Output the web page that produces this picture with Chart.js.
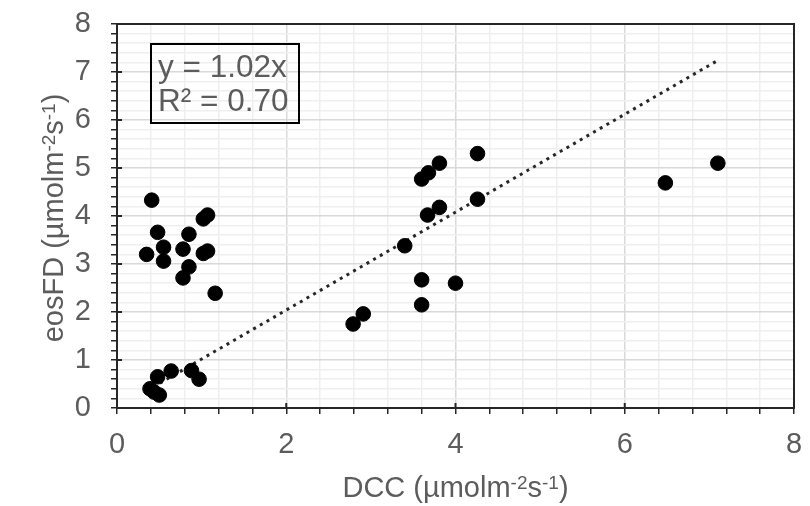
<!DOCTYPE html>
<html>
<head>
<meta charset="utf-8">
<script src="https://cdn.jsdelivr.net/npm/chart.js@4/dist/chart.umd.min.js"></script>
<style>
  html, body { margin: 0; padding: 0; background: #fff; }
</style>
</head>
<body>
<canvas id="my-chart" width="810" height="506"></canvas>
<script>
const dccValues = [0.41, 0.48, 0.55, 0.35, 0.55, 0.78, 0.85, 0.85, 0.78, 1.02, 1.07, 1.02, 1.07, 1.16,
  0.48, 0.64, 0.88, 0.97, 0.39, 0.44, 0.50,
  2.79, 2.91, 3.40, 3.60, 3.60, 3.60, 3.68, 3.67, 3.81, 3.81, 4.00, 4.26, 4.26, 6.48, 7.10];
const eosfdValues = [4.33, 3.66, 3.35, 3.20, 3.06, 3.31, 3.62, 2.94, 2.71, 3.94, 4.02, 3.22, 3.27, 2.39,
  0.65, 0.77, 0.78, 0.60, 0.40, 0.33, 0.27,
  1.75, 1.96, 3.38, 2.15, 2.67, 4.77, 4.90, 4.02, 5.10, 4.18, 2.60, 5.30, 4.35, 4.69, 5.10];
const slope = 1.02;
const rSquared = 0.70;
const xTicks = [0, 2, 4, 6, 8];
const yTicks = [0, 1, 2, 3, 4, 5, 6, 7, 8];

// axis titles as runs of text, sup = superscript
const xTitle = [{ t: 'DCC (\u00B5molm' }, { t: '-2', sup: true }, { t: 's' }, { t: '-1', sup: true }, { t: ')' }];
const yTitle = [{ t: 'eosFD (\u00B5molm' }, { t: '-2', sup: true }, { t: 's' }, { t: '-1', sup: true }, { t: ')' }];

const points = dccValues.map((x, i) => ({ x: x, y: eosfdValues[i] }));
const xMin = Math.min(...dccValues);
const xMax = Math.max(...dccValues);
const trend = [{ x: xMin, y: slope * xMin }, { x: xMax, y: slope * xMax }];

const textGrey = '#5c5c5c';
const fontFamily = '"Liberation Sans", Arial, sans-serif';
const titleSize = 29;
const supSize = 19;

const isMajor = (v, step) => Math.abs(v / step - Math.round(v / step)) < 1e-6;

function drawRich(ctx, runs, cx, baseline, angle) {
  ctx.save();
  ctx.translate(cx, baseline);
  ctx.rotate(angle);
  ctx.textBaseline = 'alphabetic';
  ctx.textAlign = 'left';
  ctx.fillStyle = textGrey;
  const widths = runs.map(r => {
    ctx.font = (r.sup ? supSize : titleSize) + 'px ' + fontFamily;
    return ctx.measureText(r.t).width;
  });
  let x = -widths.reduce((a, b) => a + b, 0) / 2;
  runs.forEach((r, i) => {
    ctx.font = (r.sup ? supSize : titleSize) + 'px ' + fontFamily;
    ctx.fillText(r.t, x, r.sup ? -8 : 0);
    x += widths[i];
  });
  ctx.restore();
}

// frame round the plot area, axis titles and the regression label
const framePlugin = {
  id: 'frame',
  afterDraw(chart) {
    const { ctx, chartArea: a } = chart;
    ctx.save();
    ctx.strokeStyle = '#262626';
    ctx.lineWidth = 2;
    ctx.strokeRect(a.left, a.top, a.right - a.left, a.bottom - a.top);

    // major ticks poke a little into the plot
    ctx.beginPath();
    xTicks.forEach(v => {
      const px = chart.scales.x.getPixelForValue(v);
      ctx.moveTo(px, a.bottom);
      ctx.lineTo(px, a.bottom - 5);
    });
    yTicks.forEach(v => {
      const py = chart.scales.y.getPixelForValue(v);
      ctx.moveTo(a.left, py);
      ctx.lineTo(a.left + 5, py);
    });
    ctx.stroke();

    const bx = a.left + 34, by = a.top + 20;
    ctx.strokeStyle = '#000';
    ctx.strokeRect(bx, by, 148, 79);
    ctx.fillStyle = textGrey;
    ctx.font = '31.5px ' + fontFamily;
    ctx.textBaseline = 'alphabetic';
    ctx.fillText('y = ' + slope.toFixed(2) + 'x', bx + 7, by + 33);
    ctx.fillText('R\u00B2 = ' + rSquared.toFixed(2), bx + 7, by + 67);
    ctx.restore();

    drawRich(ctx, xTitle, (a.left + a.right) / 2, 497, 0);
    drawRich(ctx, yTitle, 63, (a.top + a.bottom) / 2 + 2, -Math.PI / 2);
  }
};

const ctx = document.getElementById('my-chart').getContext('2d');
const myChart = new Chart(ctx, {
  type: 'scatter',
  data: {
    datasets: [{
      label: 'eosFD',
      data: points,
      backgroundColor: '#000',
      borderColor: '#000',
      pointRadius: 7.3,
      pointHoverRadius: 7.3
    }, {
      label: 'Linear',
      data: trend,
      type: 'line',
      showLine: true,
      pointRadius: 0,
      borderColor: '#262626',
      borderWidth: 3,
      borderDash: [3, 4.7],
      fill: false
    }]
  },
  plugins: [framePlugin],
  options: {
    responsive: false,
    animation: false,
    layout: { padding: { top: 24, right: 16, left: 0, bottom: 0 } },
    plugins: {
      legend: { display: false },
      tooltip: { enabled: false }
    },
    scales: {
      x: {
        type: 'linear',
        min: 0,
        max: 8,
        afterFit(scale) {
          scale.height = 98;
          scale.paddingLeft = 0;
          scale.paddingRight = 0;
        },
        ticks: {
          stepSize: 0.4,
          autoSkip: false,
          maxRotation: 0,
          padding: 14,
          color: textGrey,
          font: { family: fontFamily, size: 29 },
          callback: v => (isMajor(v, 2) ? String(Math.round(v)) : '')
        },
        grid: {
          color: c => (isMajor(c.tick.value, 2) ? '#d9d9d9' : '#efefef'),
          lineWidth: 1.5,
          tickColor: '#262626',
          tickLength: 6,
          tickWidth: 1.5
        },
        border: { color: '#262626', width: 2 }
      },
      y: {
        type: 'linear',
        min: 0,
        max: 8,
        afterFit(scale) {
          scale.width = 117;
          scale.paddingTop = 0;
          scale.paddingBottom = 0;
        },
        ticks: {
          stepSize: 0.2,
          autoSkip: false,
          padding: 20,
          color: textGrey,
          font: { family: fontFamily, size: 29 },
          callback: v => (isMajor(v, 1) ? String(Math.round(v)) : '')
        },
        grid: {
          color: c => (isMajor(c.tick.value, 1) ? '#d9d9d9' : '#efefef'),
          lineWidth: 1.5,
          tickColor: '#262626',
          tickLength: 6,
          tickWidth: 1.5
        },
        border: { color: '#262626', width: 2 }
      }
    }
  }
});
</script>
</body>
</html>
